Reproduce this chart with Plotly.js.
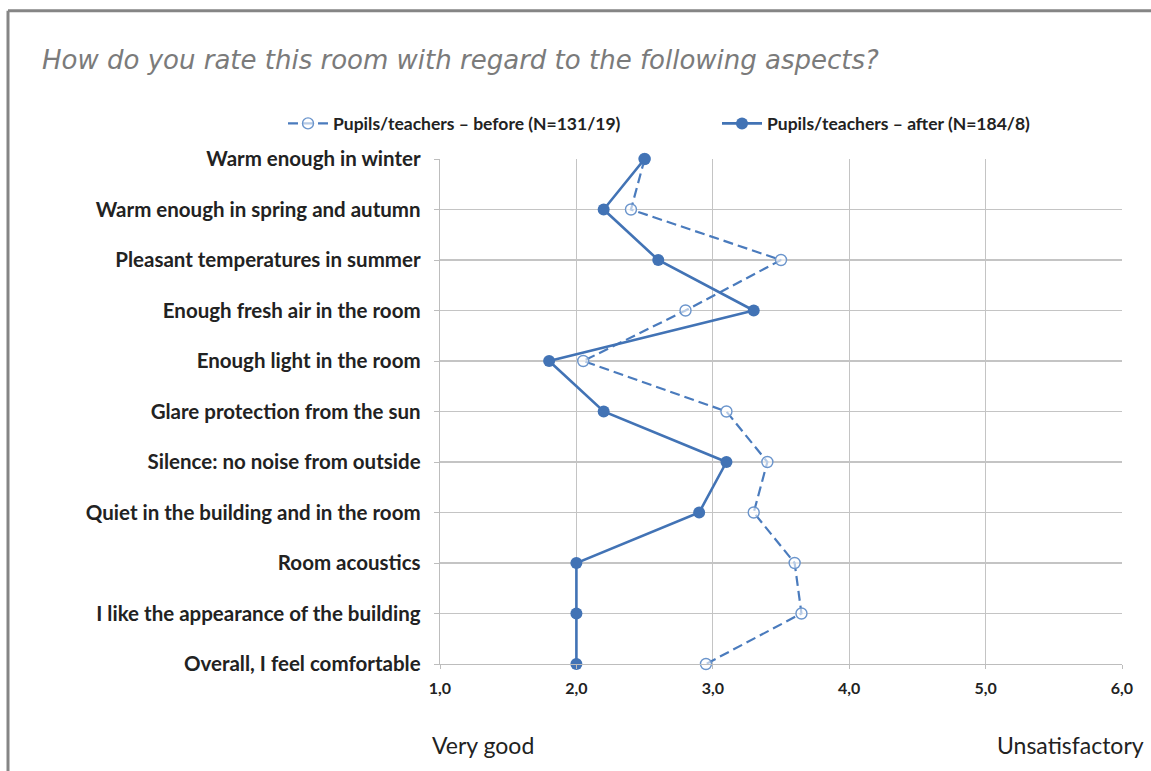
<!DOCTYPE html>
<html><head><meta charset="utf-8">
<script src="https://cdn.plot.ly/plotly-3.0.1.min.js"></script>
<style>html,body{margin:0;padding:0;background:#fff;}#chart{width:1151px;height:771px;}</style>
</head><body><div id="chart"></div>
<script>
var categories = [
  "Warm enough in winter",
  "Warm enough in spring and autumn",
  "Pleasant temperatures in summer",
  "Enough fresh air in the room",
  "Enough light in the room",
  "Glare protection from the sun",
  "Silence: no noise from outside",
  "Quiet in the building and in the room",
  "Room acoustics",
  "I like the appearance of the building",
  "Overall, I feel comfortable"
];
var beforeValues = [2.5, 2.4, 3.5, 2.8, 2.05, 3.1, 3.4, 3.3, 3.6, 3.65, 2.95];
var afterValues  = [2.5, 2.2, 2.6, 3.3, 1.8, 2.2, 3.1, 2.9, 2.0, 2.0, 2.0];
var seriesNames = ["Pupils/teachers \u2013 before (N=131/19)", "Pupils/teachers \u2013 after (N=184/8)"];
var xTickValues = [1, 2, 3, 4, 5, 6];
var chartTitle = "How do you rate this room with regard to the following aspects?";
var scaleLabels = ["Very good", "Unsatisfactory"];

var blue = "#4273b5";
var traces = [
  {x: beforeValues, y: categories, type: "scatter", mode: "lines+markers", name: seriesNames[0],
   line: {color: "#4a7bbd", width: 2.2, dash: "10px,5px"},
   marker: {symbol: "circle", size: 11, color: "rgba(255,255,255,0.6)", line: {color: "#6b95cc", width: 1.4}},
   cliponaxis: false},
  {x: afterValues, y: categories, type: "scatter", mode: "lines+markers", name: seriesNames[1],
   line: {color: blue, width: 2.6},
   marker: {symbol: "circle", size: 12, color: blue},
   cliponaxis: false}
];

var L = 440, R = 1122, T = 158.5, B = 664, W = 1151, H = 771;
var pw = R - L, ph = B - T;
function px(x){ return (x - L) / pw; }
function py(y){ return (B - y) / ph; }

var layout = {
  width: W, height: H,
  margin: {l: L, r: W - R, t: T, b: H - B, pad: 0},
  paper_bgcolor: "#fff", plot_bgcolor: "#fff",
  separators: ",.",
  showlegend: true,
  title: {text: chartTitle, x: 42 / W, xref: "container", xanchor: "left", y: 1 - 60 / H, yref: "container", yanchor: "middle",
          font: {family: "DejaVu Sans", size: 26, color: "#7b7b7b", style: "italic"}},
  legend: {orientation: "h", x: px(341), xanchor: "left", y: py(123), yanchor: "middle",
           font: {family: "Lato", size: 17.5, color: "#222", weight: "bold"}, entrywidth: 379, entrywidthmode: "pixels",
           itemwidth: 40, bgcolor: "rgba(0,0,0,0)"},
  xaxis: {range: [1, 6], tickvals: xTickValues, tickformat: ".1f", showgrid: true, gridcolor: "#c4c4c4", gridwidth: 1.3,
          zeroline: false, showline: true, linecolor: "#bdbdbd", linewidth: 1.3, ticks: "outside", ticklen: 4, tickcolor: "#bdbdbd",
          ticklabelstandoff: 5,
          tickfont: {family: "Lato", size: 16, color: "#222", weight: "bold"}, fixedrange: true},
  yaxis: {type: "category", categoryorder: "array", categoryarray: categories, range: [categories.length - 1, 0],
          showgrid: true, gridcolor: "#c4c4c4", gridwidth: 1.3, showline: true, linecolor: "#bdbdbd", linewidth: 1.3,
          ticks: "outside", ticklen: 5, tickcolor: "#bdbdbd", ticklabelstandoff: 9,
          tickfont: {family: "Lato", size: 20.5, color: "#222", weight: "bold"}, fixedrange: true},
  annotations: [
    {text: scaleLabels[0], xref: "paper", yref: "paper", x: px(430), y: py(745), xanchor: "left", yanchor: "middle", showarrow: false,
     font: {family: "Lato", size: 23, color: "#222"}},
    {text: scaleLabels[1], xref: "paper", yref: "paper", x: px(1146), y: py(745), xanchor: "right", yanchor: "middle", showarrow: false,
     font: {family: "Lato", size: 23, color: "#222"}}
  ],
  shapes: [
    {type: "line", xref: "paper", yref: "paper", x0: px(8), x1: px(W + 5), y0: py(10), y1: py(10), line: {color: "#858585", width: 3}},
    {type: "line", xref: "paper", yref: "paper", x0: px(8), x1: px(8), y0: py(10), y1: py(H + 5), line: {color: "#858585", width: 3}}
  ]
};
Plotly.newPlot("chart", traces, layout, {displayModeBar: false, staticPlot: true});
</script></body></html>
